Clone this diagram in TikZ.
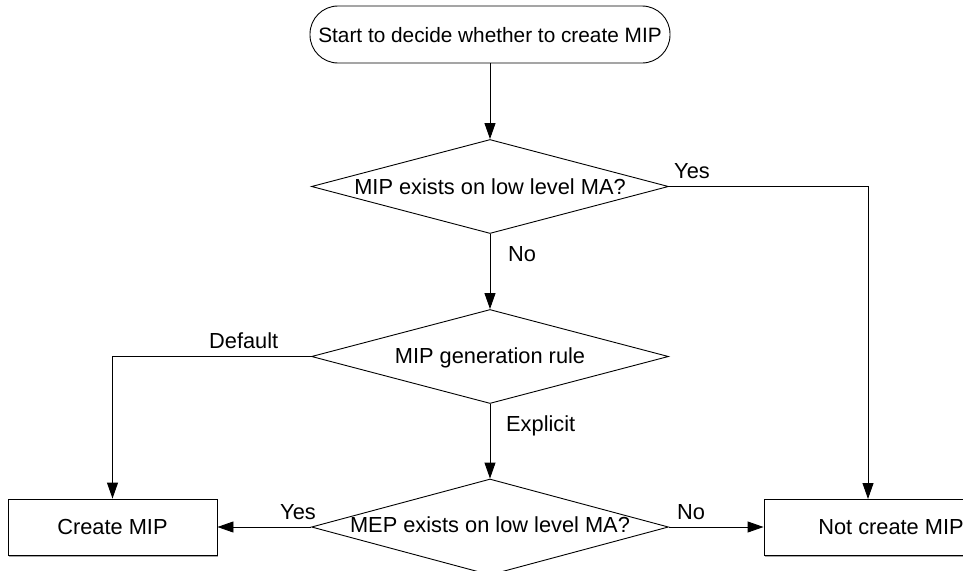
\documentclass[tikz,border=0pt]{standalone}
\usepackage{fontspec}
\setmainfont{Liberation Sans}
\usetikzlibrary{shapes.geometric,arrows.meta}

% text of fixed size placed with its baseline a given distance below the node centre
\newcommand{\basedrop}[2]{\makebox[0pt]{\raisebox{-#1}[0pt][0pt]{#2}}}

\begin{document}
\begin{tikzpicture}[x=1pt,y=-1pt,
  every node/.style={font=\fontsize{21.8}{26}\selectfont},
  line/.style={draw=black,line width=0.9pt},
  flow/.style={line,-{Triangle[length=16pt,width=11pt]}},
  terminal/.style={line,rectangle,rounded corners=28pt,minimum width=360pt,minimum height=57pt,inner sep=0pt,font=\fontsize{20.8}{25}\selectfont},
  decision/.style={line,diamond,minimum width=357pt,minimum height=94pt,inner sep=0pt},
  action/.style={line,rectangle,minimum width=209pt,minimum height=56pt,inner sep=0pt},
  lbl/.style={anchor=base west,inner sep=0pt}
]
\clip (0,0) rectangle (963,570);
\useasboundingbox (0,0) rectangle (963,570);
\fill[white] (0,0) rectangle (963,570);

% process nodes
\node[terminal] (start) at (490,34.5) {\basedrop{7.5pt}{Start to decide whether to create MIP}};
\node[decision] (d1) at (490,186.5) {\basedrop{7.5pt}{MIP exists on low level MA?}};
\node[decision] (d2) at (490,356.5) {\basedrop{7pt}{MIP generation rule}};
\node[decision,minimum height=96pt] (d3) at (490,527) {\basedrop{5pt}{MEP exists on low level MA?}};
\node[action] (create) at (112.5,527) {Create MIP};
\node[action,minimum width=254pt] (nocreate) at (891,527) {Not create MIP};
\coordinate (nctop) at (868,499);

% light shadow under the result boxes
\draw[gray!70,line width=1.2pt] ([xshift=1pt,yshift=-1.3pt]create.south west) -- ([xshift=1pt,yshift=-1.3pt]create.south east);
\draw[gray!70,line width=1.2pt] ([xshift=1pt,yshift=-1.3pt]nocreate.south west) -- ([xshift=1pt,yshift=-1.3pt]nocreate.south east);

% connectors
\draw[flow] (start.south) -- (d1.north);
\draw[flow] (d1.south) -- (d2.north);
\draw[flow] (d2.south) -- (d3.north);
\draw[flow] (d1.east) -| (nctop);
\draw[flow] (d2.west) -| (create.north);
\draw[flow] (d3.west) -- (create.east);
\draw[flow] (d3.east) -- (nocreate.west);

% branch labels
\node[lbl] (lyes1) at (674,178) {Yes};
\node[lbl] (lno1) at (508,261) {No};
\node[lbl] (ldef) at (209,348) {Default};
\node[lbl] (lexp) at (506,431) {Explicit};
\node[lbl] (lyes2) at (280,519) {Yes};
\node[lbl] (lno2) at (677,519) {No};
\end{tikzpicture}
\end{document}
